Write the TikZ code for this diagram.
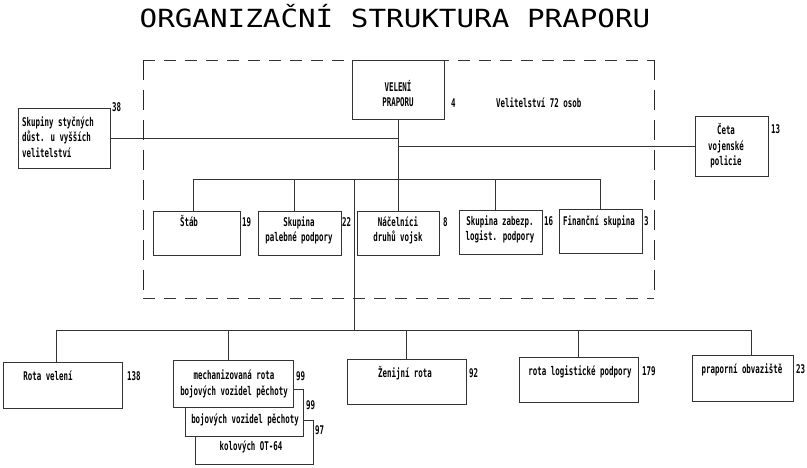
\documentclass[tikz,border=0pt]{standalone}
\usepackage{fontspec}
\usepackage{graphicx}
\newfontfamily\monof{DejaVu Sans Mono}
\newcommand{\bt}[2][c]{\scalebox{0.62}[1]{\begin{tabular}{@{}#1@{}}#2\end{tabular}}}
\tikzset{
 lc/.style={draw=black!80, line width=0.7pt},
 box/.style={lc, fill=white, rectangle, inner sep=0pt, outer sep=0pt, anchor=north west},
 txt/.style={inner sep=0pt, font=\monof\bfseries\fontsize{12}{15.5}\selectfont},
 num/.style={txt, anchor=west},
 conn/.style={draw=black!80, line width=0.7pt},
 dashh/.style={draw=black!80, line width=0.7pt, dash pattern=on 12pt off 9pt},
 dashv/.style={draw=black!85, line width=0.8pt, dash pattern=on 20pt off 10pt},
 titlef/.style={inner sep=0pt, anchor=base, font=\monof\fontsize{25}{30}\selectfont},
}
\begin{document}
\begin{tikzpicture}[x=1pt,y=-1pt]
\useasboundingbox (0,0) rectangle (807,468);
% title
\node[titlef] (title) at (395,28) {\scalebox{1.17}[1]{ORGANIZAČNÍ STRUKTURA PRAPORU}};
% dashed headquarters frame
\node[inner sep=0pt, outer sep=0pt, minimum width=511, minimum height=238, anchor=north west] (hq) at (143,60) {};
\draw[dashh] (hq.north west) -- (hq.north east);
\draw[dashh] (hq.south west) -- (hq.south east);
\draw[dashv] (hq.north west) -- (hq.south west);
\draw[dashv] (hq.north east) -- (hq.south east);
% command
\node[box, minimum width=92, minimum height=59] (vel) at (352,60) {};
\node[txt] (velt) at (398,96) {\bt{VELENÍ\\PRAPORU}};
\node[num] (n4) at (451,104) {\bt{4}};
\node[num] (velit) at (496,104) {\bt{Velitelství 72 osob}};
% side boxes
\node[box, minimum width=92, minimum height=60] (sky) at (18,108) {};
\node[txt, anchor=west] (skyt) at (22,138.5) {\bt[l]{Skupiny styčných\\důst. u vyšších\\velitelství}};
\node[num] (n38) at (112,108) {\bt{38}};
\node[box, minimum width=73, minimum height=60] (ceta) at (695,116) {};
\node[txt] (cetat) at (726,147) {\bt{Četa\\vojenské\\policie}};
\node[num] (n13) at (771,130) {\bt{13}};
% staff row
\node[box, minimum width=87, minimum height=44] (stab) at (153,211) {};
\node[txt] (stabt) at (189,223) {\bt{Štáb}};
\node[num] (n19) at (242,223) {\bt{19}};
\node[box, minimum width=83, minimum height=44] (pal) at (258,211) {};
\node[txt] (palt) at (299,231) {\bt{Skupina\\palebné podpory}};
\node[num] (n22) at (342,223) {\bt{22}};
\node[box, minimum width=82, minimum height=44] (nac) at (357,211) {};
\node[txt] (nact) at (398,231) {\bt{Náčelníci\\druhů vojsk}};
\node[num] (n8) at (443,223) {\bt{8}};
\node[box, minimum width=83, minimum height=44] (zab) at (459,210) {};
\node[txt] (zabt) at (500,230) {\bt{Skupina zabezp.\\logist. podpory}};
\node[num] (n16) at (544,222) {\bt{16}};
\node[box, minimum width=83, minimum height=44] (fin) at (559,209) {};
\node[txt] (fint) at (599,222) {\bt{Finanční skupina}};
\node[num] (n3) at (644,222) {\bt{3}};
% company row
\node[box, minimum width=119, minimum height=46] (rv) at (3,362) {};
\node[txt] (rvt) at (48,377) {\bt{Rota velení}};
\node[num] (n138) at (127,377) {\bt{138}};
\node[box, minimum width=118, minimum height=44] (m3) at (195,420) {};
\node[box, minimum width=118, minimum height=47] (m2) at (185,389) {};
\node[box, minimum width=120, minimum height=47] (m1) at (173,360) {};
\node[txt] (m1t) at (234,384.5) {\bt{mechanizovaná rota\\bojových vozidel pěchoty}};
\node[txt] (m2t) at (245,420) {\bt{bojových vozidel pěchoty}};
\node[txt] (m3t) at (251,447) {\bt{kolových OT-64}};
\node[num] (n99a) at (296,377) {\bt{99}};
\node[num] (n99b) at (306,406) {\bt{99}};
\node[num] (n97) at (315,431) {\bt{97}};
\node[box, minimum width=119, minimum height=45] (zen) at (347,359) {};
\node[txt] (zent) at (405,374) {\bt{Ženijní rota}};
\node[num] (n92) at (469,374) {\bt{92}};
\node[box, minimum width=119, minimum height=45] (log) at (519,357) {};
\node[txt] (logt) at (580,372) {\bt{rota logistické podpory}};
\node[num] (n179) at (642,372) {\bt{179}};
\node[box, minimum width=101, minimum height=46] (obv) at (692,355) {};
\node[txt] (obvt) at (742,370) {\bt{praporní obvaziště}};
\node[num] (n23) at (796,370) {\bt{23}};
% connector points
\coordinate (sbar) at (0,179);
\coordinate (bbar) at (0,330);
\coordinate (mid) at (354,0);
\coordinate (stabc) at ([xshift=-3]stab.north);
\coordinate (palc) at ([xshift=-5]pal.north);
\coordinate (zabc) at ([xshift=-5]zab.north);
\coordinate (rvc) at ([xshift=-6]rv.north);
\coordinate (m1c) at ([xshift=-5]m1.north);
\coordinate (obvc) at ([xshift=9]obv.north);
% connectors
\draw[conn] (vel.south) -- (nac.north);
\draw[conn] (sky.east) -- (sky.east -| vel.south);
\draw[conn] (ceta.west) -- (ceta.west -| vel.south);
\draw[conn] (stabc) -- (stabc |- sbar) -- (fin.north |- sbar) -- (fin.north);
\draw[conn] (palc) -- (palc |- sbar);
\draw[conn] (zabc) -- (zabc |- sbar);
\draw[conn] (mid |- sbar) -- (mid |- bbar);
\draw[conn] (rvc) -- (rvc |- bbar) -- (obvc |- bbar) -- (obvc);
\draw[conn] (m1c) -- (m1c |- bbar);
\draw[conn] (zen.north) -- (zen.north |- bbar);
\draw[conn] (log.north) -- (log.north |- bbar);
\end{tikzpicture}
\end{document}
